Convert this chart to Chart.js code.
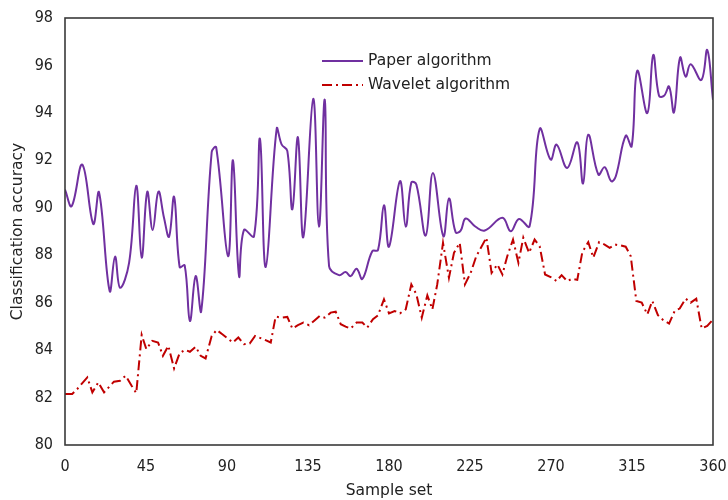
<!DOCTYPE html>
<html>
<head>
<meta charset="utf-8">
<script src="https://cdn.jsdelivr.net/npm/chart.js@4.4.0/dist/chart.umd.min.js"></script>
<style>
    html, body { margin: 0; padding: 0; background: #fff; }
    #wrap { width: 728px; height: 500px; }
</style>
</head>
<body>
<div id="wrap"><canvas id="accChart" width="728" height="500"></canvas></div>
<script>
// sample positions and accuracy
const paperX = [0, 3.7, 9.6, 15.7, 18.9, 24.8, 27.8, 30.6, 35.6, 39.6, 42.6, 45.7, 48.7, 51.9, 55, 57.8, 60.6, 63.7, 66.5, 69.4,
    72.6, 75.7, 81.5, 84, 90.6, 93.3, 96.7, 99.4, 105, 108.3, 111.5, 117.6, 120.4, 123.5, 126.3, 129.4, 132.4, 137.9, 141.1, 144.3,
    146.7, 152.2, 155.9, 158.7, 162, 165.2, 170.7, 173.9, 177.2, 180, 186.1, 189.3, 192.4, 195.2, 200.4, 204.4, 210.2, 213.3, 217, 219.8,
    222.6, 228.1, 233.2, 243, 247.6, 252.2, 258.1, 263.7, 269.8, 273.1, 279, 284.6, 287.8, 290.7, 296.3, 299.8, 303.5, 306, 311.5, 314.8,
    317.9, 323.5, 326.8, 330, 332.8, 335.6, 338.3, 341.7, 344.8, 347.6, 353.5, 356.8, 360];
const paperY = [90.77, 90.07, 91.82, 89.32, 90.65, 86.49, 87.94, 86.63, 87.68, 90.93, 87.9, 90.67, 89.06, 90.68, 89.58, 88.78, 90.46, 87.5, 87.57, 85.23,
    87.12, 85.65, 92.35, 92.55, 87.96, 92.0, 87.12, 89.06, 88.8, 92.91, 87.5, 93.33, 92.66, 92.4, 89.93, 92.97, 88.76, 94.59, 89.2, 94.55,
    87.54, 87.16, 87.29, 87.12, 87.43, 87.0, 88.17, 88.22, 90.11, 88.36, 91.12, 89.2, 91.07, 90.98, 88.83, 91.47, 88.8, 90.39, 88.97, 89.04,
    89.55, 89.2, 89.04, 89.58, 89.01, 89.53, 89.22, 93.32, 92.03, 92.66, 91.68, 92.76, 91.02, 93.08, 91.4, 91.71, 91.12, 91.33, 93.04, 92.59,
    95.77, 93.99, 96.44, 94.72, 94.72, 95.11, 94.02, 96.33, 95.53, 96.05, 95.39, 96.65, 94.55];

const waveletX = [0, 4, 6.8, 12.4, 15.2, 18.5, 21.7, 27.2, 30.6, 33.7, 37, 39.6, 42.6, 45.2, 48.5, 51.7, 54.4, 57.4, 60.6, 63.7,
    66.7, 69.4, 72.6, 75.4, 78.1, 81.5, 84.3, 87.4, 93.3, 96.3, 99.4, 102.6, 105.6, 111.1, 114.3, 117, 120.4, 123.5, 126.3, 129.4,
    132.4, 135.6, 138.3, 141.5, 144.3, 147.6, 150.4, 153.2, 155.9, 158.7, 162, 165.2, 167.9, 171.1, 173.9, 177.2, 180, 183.1, 186.1, 189.3,
    192.4, 195.2, 198.2, 201.3, 204.1, 206.8, 210, 213.3, 216.1, 219.3, 222.2, 225.4, 228.5, 234.1, 237, 240.2, 243, 245.7, 248.9, 251.9,
    254.6, 257.8, 260.9, 263.7, 266.7, 269.8, 273.1, 275.9, 279, 281.8, 284.6, 287.4, 290.7, 293.5, 296.7, 299.8, 302.6, 305.6, 308.7, 311.5,
    314.3, 317.4, 320.4, 323.5, 326.3, 329.4, 332.4, 335.6, 338.7, 341.5, 344.8, 347.6, 350.7, 353.7, 356.8, 359.3];
const waveletY = [82.15, 82.15, 82.36, 82.85, 82.22, 82.64, 82.22, 82.67, 82.71, 82.92, 82.5, 82.19, 84.64, 84.04, 84.39, 84.32, 83.76, 84.18, 83.23, 83.87,
    84.01, 83.93, 84.14, 83.76, 83.65, 84.6, 84.85, 84.67, 84.32, 84.53, 84.25, 84.28, 84.6, 84.43, 84.32, 85.41, 85.37, 85.4, 84.91, 85.05,
    85.16, 85.05, 85.23, 85.44, 85.37, 85.58, 85.62, 85.09, 84.99, 84.91, 85.16, 85.16, 84.95, 85.3, 85.47, 86.14, 85.55, 85.65, 85.55, 85.72,
    86.77, 86.35, 85.37, 86.31, 85.72, 86.77, 88.52, 87.05, 88.1, 88.52, 86.77, 87.26, 87.96, 88.74, 87.26, 87.61, 87.19, 87.96, 88.66, 87.68,
    88.74, 88.1, 88.66, 88.38, 87.19, 87.08, 86.91, 87.16, 86.91, 87.01, 86.96, 88.13, 88.55, 87.9, 88.55, 88.45, 88.31, 88.45, 88.41, 88.36,
    87.96, 86.07, 86.0, 85.51, 86.07, 85.47, 85.26, 85.12, 85.65, 85.75, 86.17, 86.0, 86.17, 84.91, 85.02, 85.23];

const seriesNames = ["Paper algorithm", "Wavelet algorithm"];
const xTicks = [0, 45, 90, 135, 180, 225, 270, 315, 360];
const yTicks = [80, 82, 84, 86, 88, 90, 92, 94, 96, 98];

const PURPLE = "#7030a0";
const RED = "#c00000";
const RED_DASH = [10, 4, 2, 4];

const toPoints = (xs, ys) => xs.map((x, i) => ({ x: x, y: ys[i] }));

// no extra room for overhanging tick labels, the plot box is fixed
function fixBox(s, size) {
    if (s.isHorizontal()) s.height = size; else s.width = size;
    s.paddingLeft = 0;
    s.paddingRight = 0;
    s.paddingTop = 0;
    s.paddingBottom = 0;
}

// frame round the plot + legend inside it
const frameAndLegend = {
    id: "frameAndLegend",
    afterDraw(chart) {
        const { ctx, chartArea: a } = chart;
        ctx.save();
        ctx.strokeStyle = "#3a3a3a";
        ctx.lineWidth = 1.6;
        ctx.strokeRect(a.left, a.top, a.right - a.left, a.bottom - a.top);

        const lx = 322, ly = 61, gap = 24;
        ctx.lineWidth = 2;
        ctx.strokeStyle = PURPLE;
        ctx.beginPath(); ctx.moveTo(lx, ly); ctx.lineTo(lx + 41, ly); ctx.stroke();
        ctx.strokeStyle = RED;
        ctx.setLineDash(RED_DASH);
        ctx.beginPath(); ctx.moveTo(lx, ly + gap); ctx.lineTo(lx + 41, ly + gap); ctx.stroke();
        ctx.setLineDash([]);

        ctx.fillStyle = "#222";
        ctx.font = "15.5px 'DejaVu Sans'";
        ctx.textBaseline = "middle";
        ctx.fillText(seriesNames[0], lx + 46, ly);
        ctx.fillText(seriesNames[1], lx + 46, ly + gap);
        ctx.restore();
    }
};

new Chart(document.getElementById("accChart"), {
    type: "line",
    data: {
        datasets: [{
            label: seriesNames[0],
            data: toPoints(paperX, paperY),
            borderColor: PURPLE,
            borderWidth: 2,
            pointRadius: 0,
            tension: 0.4,
            fill: false
        }, {
            label: seriesNames[1],
            data: toPoints(waveletX, waveletY),
            borderColor: RED,
            borderWidth: 2,
            borderDash: RED_DASH,
            pointRadius: 0,
            tension: 0,
            fill: false
        }]
    },
    options: {
        responsive: false,
        animation: false,
        layout: { padding: { top: 18, right: 15, left: 0, bottom: 0 } },
        plugins: {
            legend: { display: false },
            tooltip: { enabled: false }
        },
        scales: {
            x: {
                type: "linear",
                min: 0,
                max: 360,
                afterFit: s => fixBox(s, 55),
                afterBuildTicks: s => { s.ticks = xTicks.map(v => ({ value: v })); },
                grid: { display: false, drawTicks: false },
                border: { display: false },
                ticks: {
                    padding: 12,
                    color: "#222",
                    font: { family: "'DejaVu Sans Condensed', 'DejaVu Sans'", size: 16 }
                },
                title: {
                    display: true,
                    text: "Sample set",
                    color: "#222",
                    padding: { top: 0, bottom: 0 },
                    font: { family: "'DejaVu Sans'", size: 15.5 }
                }
            },
            y: {
                min: 80,
                max: 98,
                afterFit: s => fixBox(s, 65),
                afterBuildTicks: s => { s.ticks = yTicks.map(v => ({ value: v })); },
                grid: { display: false, drawTicks: false },
                border: { display: false },
                ticks: {
                    padding: 12,
                    color: "#222",
                    font: { family: "'DejaVu Sans Condensed', 'DejaVu Sans'", size: 16 }
                },
                title: {
                    display: true,
                    text: "Classification accuracy",
                    color: "#222",
                    padding: { top: 9, bottom: 0 },
                    font: { family: "'DejaVu Sans'", size: 15.5 }
                }
            }
        }
    },
    plugins: [frameAndLegend]
});
</script>
</body>
</html>
